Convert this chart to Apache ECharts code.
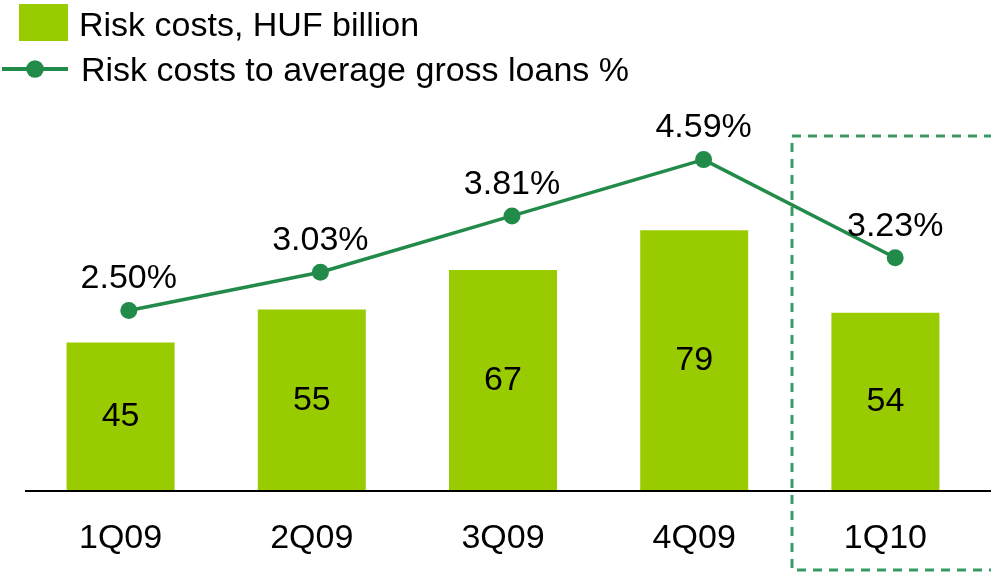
<!DOCTYPE html>
<html>
<head>
<meta charset="utf-8">
<script src="https://cdn.jsdelivr.net/npm/echarts@6/dist/echarts.min.js"></script>
<style>html,body{margin:0;padding:0;background:#fff}#c{width:991px;height:575px}</style>
</head>
<body>
<div id="c"></div>
<script>
const categories = ['1Q09', '2Q09', '3Q09', '4Q09', '1Q10'];
const riskCosts = [45, 55, 67, 79, 54];
const riskRatio = [2.50, 3.03, 3.81, 4.59, 3.23];
const barName = 'Risk costs, HUF billion';
const lineName = 'Risk costs to average gross loans %';

const FONT = '"Liberation Sans", Arial, sans-serif';
const FS = 34;
const chart = echarts.init(document.getElementById('c'));
chart.setOption({
  animation: false,
  backgroundColor: '#fff',
  textStyle: { fontFamily: FONT },
  legend: [
    { data: [barName], left: 19, top: 4, itemWidth: 49, itemHeight: 37, padding: 0, itemGap: 6,
      icon: 'rect', formatter: n => '{t|' + n + '}',
      textStyle: { fontSize: FS, color: '#000', fontFamily: FONT,
        rich: { t: { fontSize: FS, color: '#000', fontFamily: FONT, padding: [8, 0, 0, 6] } } } },
    { data: [lineName], left: 0, top: 55, itemWidth: 66, itemHeight: 22, padding: 0,
      lineStyle: { width: 4 }, formatter: n => '{t|' + n + '}',
      textStyle: { fontSize: FS, color: '#000', fontFamily: FONT,
        rich: { t: { fontSize: FS, color: '#000', fontFamily: FONT, padding: [6, 0, 0, 8] } } } }
  ],
  grid: [
    { left: 25, width: 956, top: 95, bottom: 84 },
    { left: 33, width: 963, top: 95, bottom: 84 }
  ],
  xAxis: [
    { type: 'category', data: categories, gridIndex: 0,
      axisLine: { show: false }, axisTick: { show: false },
      axisLabel: { fontSize: FS, color: '#000', fontFamily: FONT, margin: 31 } },
    { type: 'category', data: categories, gridIndex: 1, show: false }
  ],
  yAxis: [
    { type: 'value', min: 0, max: 120, gridIndex: 0, show: false },
    { type: 'value', min: 0, max: 5.485, gridIndex: 1, show: false }
  ],
  graphic: [
    { type: 'line', shape: { x1: 25, y1: 491, x2: 991, y2: 491 }, style: { stroke: '#000', lineWidth: 2 }, z: 10 },
    { type: 'rect', shape: { x: 792, y: 136, width: 230, height: 434 },
      style: { fill: 'none', stroke: '#3a9a66', lineWidth: 3, lineDash: [9, 7] }, z: 10 }
  ],
  series: [
    { name: barName, type: 'bar', data: riskCosts, xAxisIndex: 0, yAxisIndex: 0,
      barWidth: 108, itemStyle: { color: '#99cc00' },
      label: { show: true, position: 'inside', fontSize: FS, color: '#000', fontFamily: FONT } },
    { name: lineName, type: 'line', data: riskRatio, xAxisIndex: 1, yAxisIndex: 1,
      symbol: 'circle', symbolSize: 17,
      lineStyle: { color: '#228b4a', width: 3.5 }, itemStyle: { color: '#228b4a' },
      label: { show: true, position: 'top', distance: 6, fontSize: FS, color: '#000', fontFamily: FONT,
        formatter: p => p.value.toFixed(2) + '%' } }
  ]
});
</script>
</body>
</html>
